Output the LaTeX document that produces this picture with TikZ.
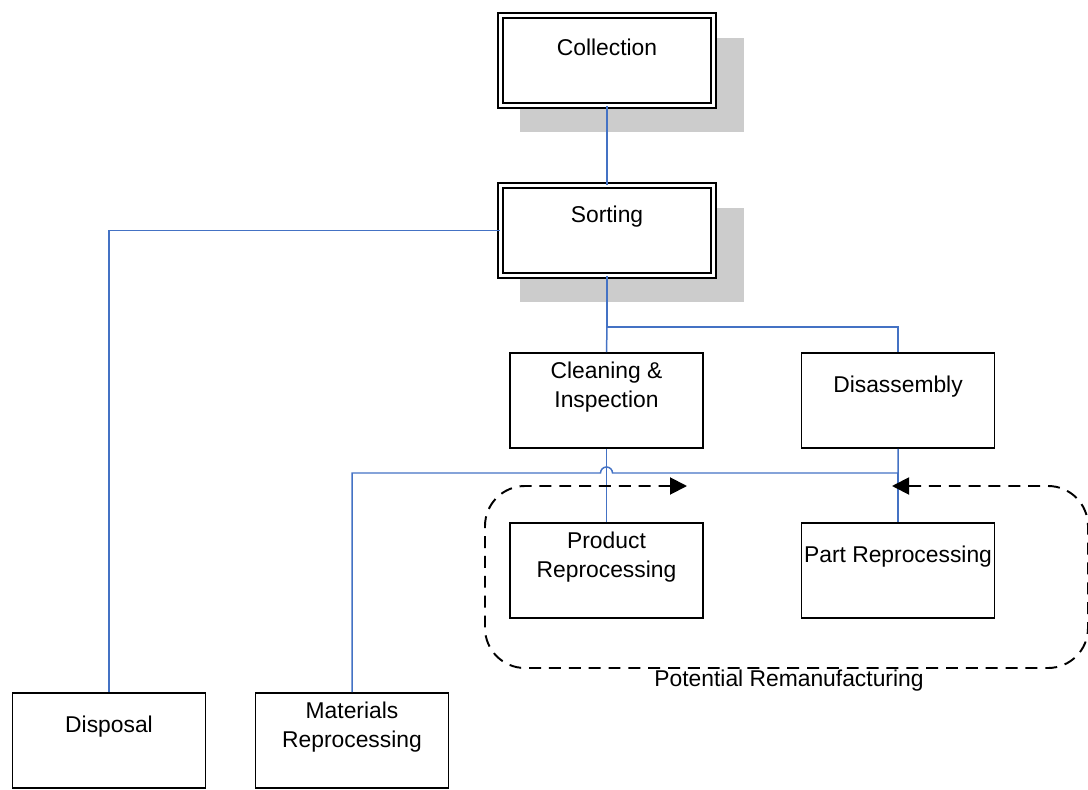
\documentclass[tikz,border=0pt]{standalone}
\usepackage{fontspec}
\setmainfont{Liberation Sans}
\usepackage{tikz}
\usetikzlibrary{calc}
\usetikzlibrary{shadows}
\usetikzlibrary{arrows.meta}

\definecolor{linkblue}{RGB}{68,114,196}

\tikzset{
    procbox/.style={draw, line width=1.1pt, minimum width=3.86cm, minimum height=1.9cm, inner sep=0pt},
    stagebox/.style={draw, double, line width=1.1pt, double distance=1.9pt, fill=white,
        minimum width=4.26cm, minimum height=1.8cm, inner sep=0pt,
        drop shadow={shadow xshift=0.48cm, shadow yshift=-0.47cm, shadow scale=1.05, fill=black!20, opacity=1}},
    boxtext/.style={font=\fontsize{13}{16.5}\selectfont, align=center, yshift=0.27cm},
    link/.style={draw=linkblue, line width=0.85pt},
    loopline/.style={line width=1.1pt, dash pattern=on 6.8pt off 4.5pt, rounded corners=0.8cm,
        {Triangle[length=0.34cm,width=0.34cm]}-{Triangle[length=0.34cm,width=0.34cm]}}
}

\begin{document}
\begin{tikzpicture}[x=0.02cm, y=-0.02cm]
                \useasboundingbox (0,0) rectangle (1088,790);

                \node[stagebox, label={[boxtext, name=collText]center:Collection}] (coll) at (607,60.5) {};
                \node[stagebox, label={[boxtext, name=sortText]center:Sorting}] (sort) at (607,230.5) {};

                \node[procbox, label={[boxtext, name=cleanText]center:Cleaning \&\\Inspection}] (clean) at (606.5,400.5) {};
                \node[procbox, label={[boxtext, name=disasText]center:Disassembly}] (disas) at (898,400.5) {};
                \node[procbox, label={[boxtext, name=prodText]center:Product\\Reprocessing}] (prod) at (606.5,570.5) {};
                \node[procbox, label={[boxtext, name=partText]center:Part Reprocessing}] (part) at (898,570.5) {};
                \node[procbox, label={[boxtext, name=dispText]center:Disposal}] (disp) at (109,740.5) {};
                \node[procbox, label={[boxtext, name=matText]center:Materials\\Reprocessing}] (mat) at (352,740.5) {};

                \coordinate (sortSplit) at (607,327);
                \coordinate (disasSplit) at (898,473);

                \draw[link] (coll.south) -- (sort.north);
                \draw[link] (sort.west) -| (disp.north);
                \draw[link] (sort.south) -- (sortSplit) -| (disas.north);
                \draw[link] (sortSplit) -- (clean.north);
                \draw[link] (clean.south) -- (prod.north);
                \draw[link] (disasSplit) -- (part.north);
                \draw[link] (disas.south) -- (disasSplit) -- ($(clean.south |- disasSplit)+(6,0)$)
                    arc[start angle=0, end angle=180, radius=0.12cm] -| (mat.north);

                \coordinate (loopStart) at (687,486);
                \coordinate (loopEnd) at (892,486);
                \draw[loopline] (loopStart) -- (485,486) -- (485,668) -- (1088,668) -- (1088,486) -- (loopEnd);

                \node[font=\fontsize{13}{16.5}\selectfont] (remanLabel) at (789,681) {Potential Remanufacturing};
            \end{tikzpicture}
\end{document}
